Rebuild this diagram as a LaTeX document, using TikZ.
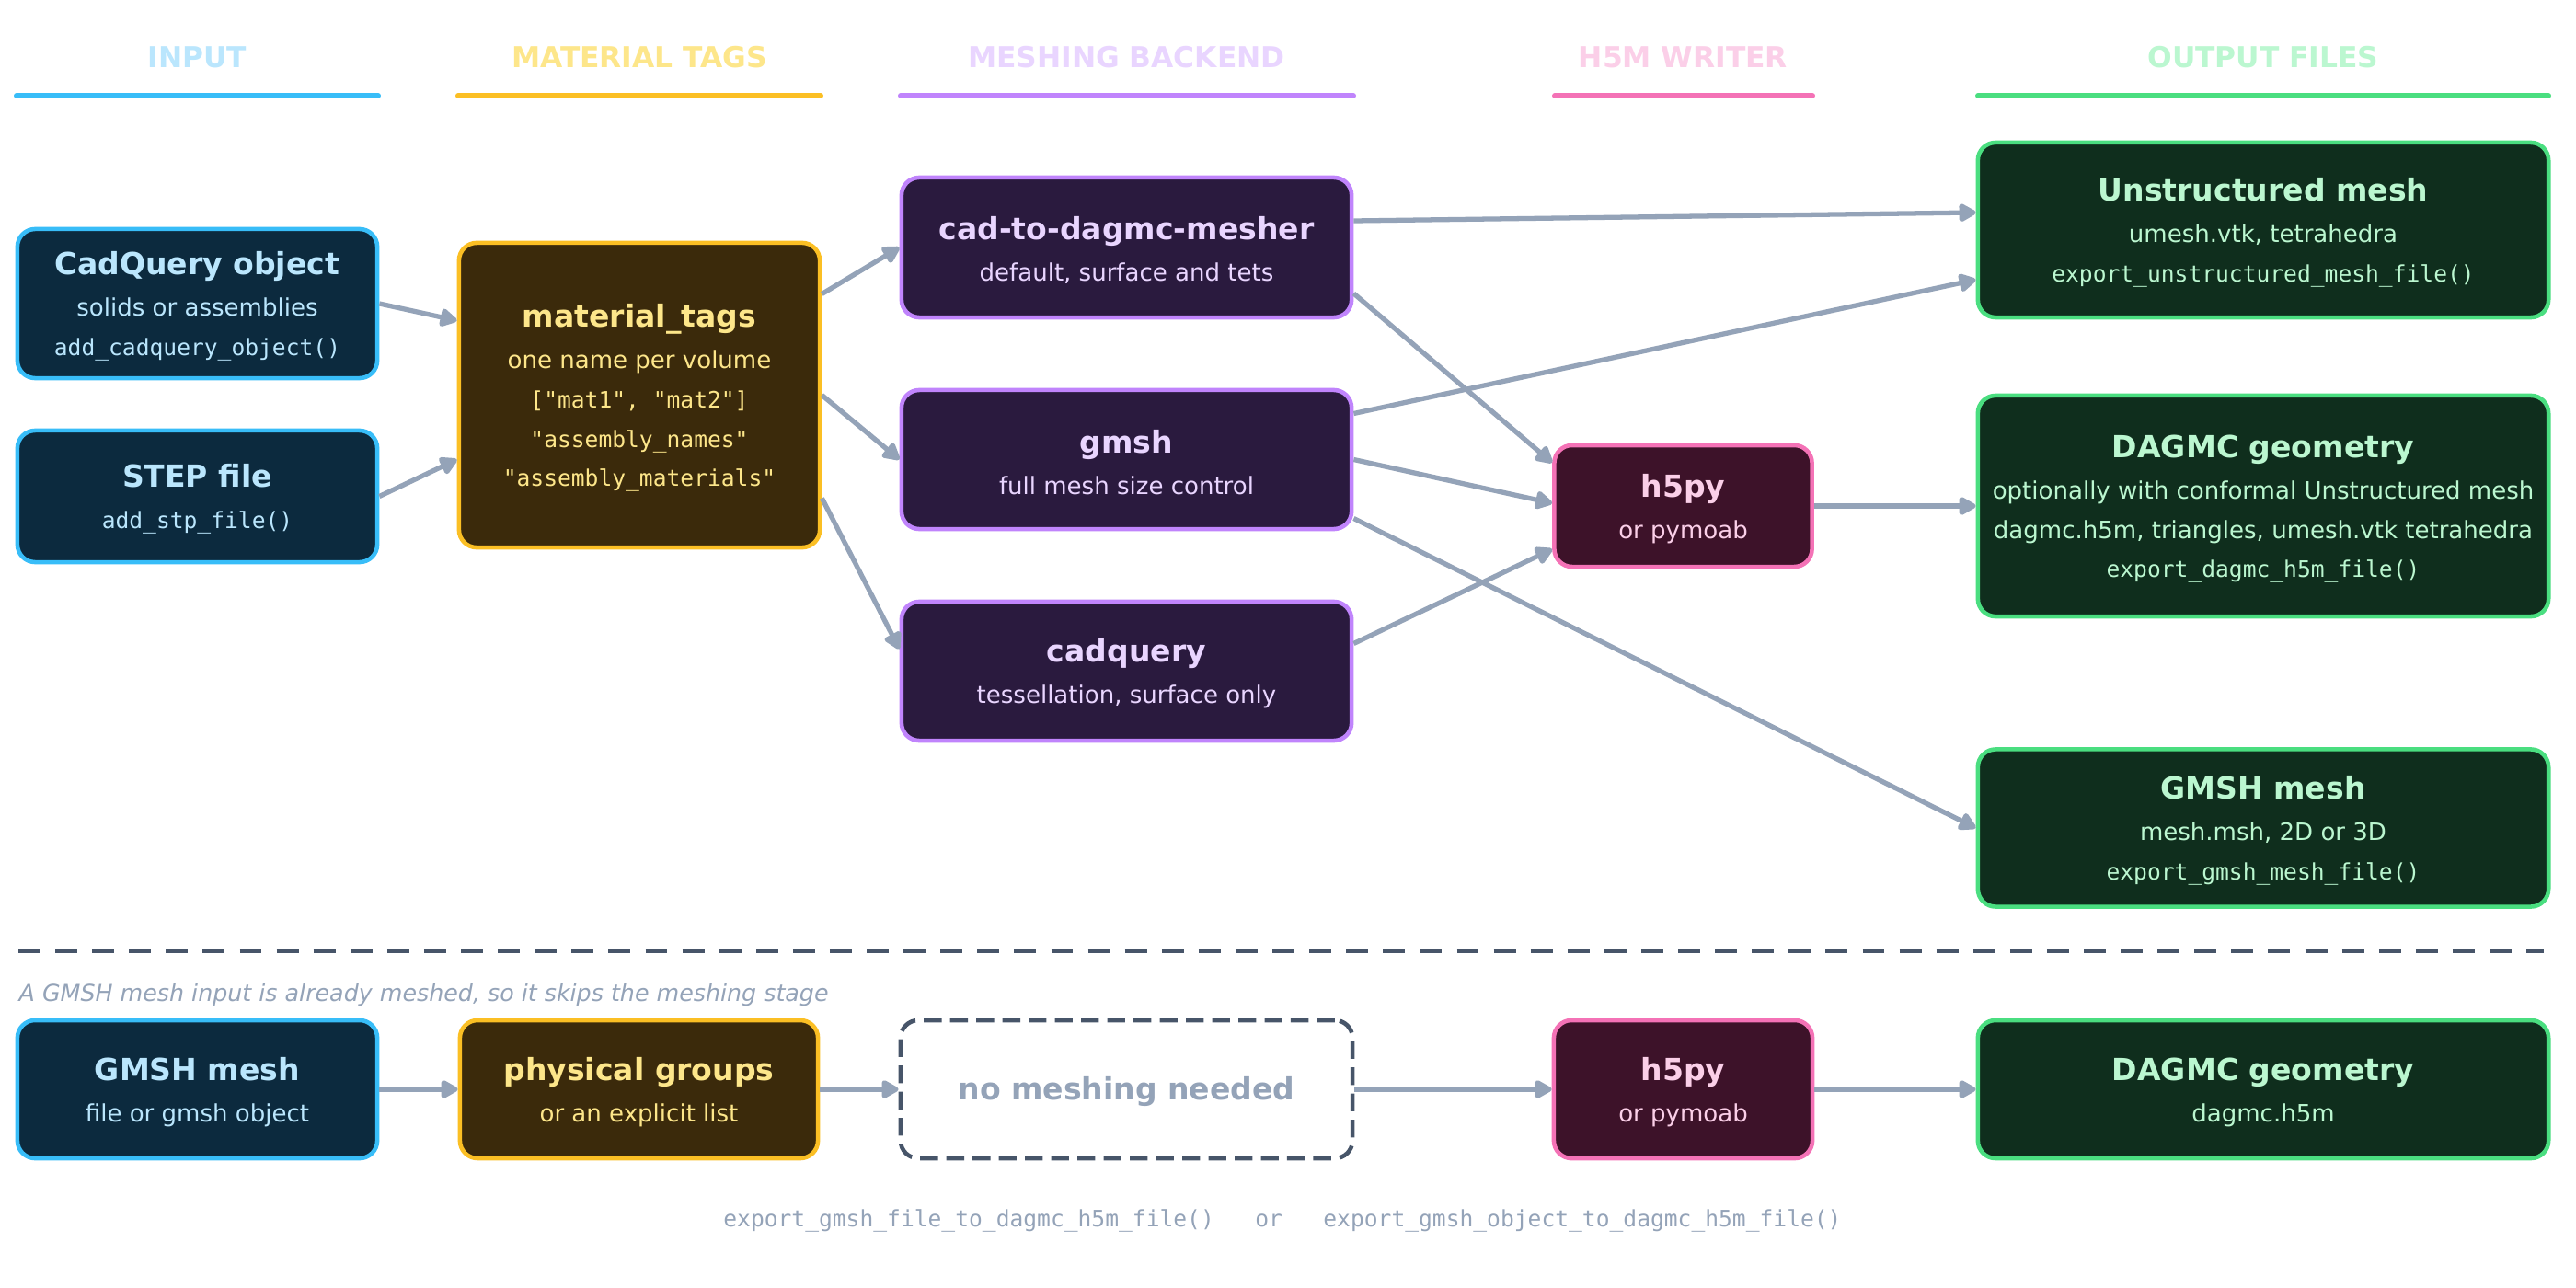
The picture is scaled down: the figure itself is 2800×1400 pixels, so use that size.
\documentclass[tikz,border=0pt]{standalone}
\usepackage{fontspec}
\setmainfont{DejaVu Sans}
\setmonofont{DejaVu Sans Mono}
\usetikzlibrary{arrows.meta, calc}

\definecolor{inedge}{HTML}{38BDF8}
\definecolor{inbg}{HTML}{0C2A3E}
\definecolor{intext}{HTML}{BAE6FD}
\definecolor{tagedge}{HTML}{FBBF24}
\definecolor{tagbg}{HTML}{3B2A0B}
\definecolor{tagtext}{HTML}{FDE68A}
\definecolor{meshedge}{HTML}{C084FC}
\definecolor{meshbg}{HTML}{2A1A3E}
\definecolor{meshtext}{HTML}{E9D5FF}
\definecolor{hfedge}{HTML}{F472B6}
\definecolor{hfbg}{HTML}{3D1229}
\definecolor{hftext}{HTML}{FBCFE8}
\definecolor{outedge}{HTML}{4ADE80}
\definecolor{outbg}{HTML}{0F2E1D}
\definecolor{outtext}{HTML}{BBF7D0}
\definecolor{arrowgray}{HTML}{94A3B8}
\definecolor{sepgray}{HTML}{475569}

\newcommand{\btitle}[1]{{\fontsize{9.4}{12}\selectfont\bfseries\rule{0pt}{8.8pt}#1}}
\newcommand{\bcode}[1]{{\ttfamily\fontsize{7}{12.2}\selectfont #1}}

\begin{document}
\begin{tikzpicture}[
  x=0.01cm, y=-0.01cm,
  >={Triangle[length=6pt,width=6.2pt,round]},
  %--- boxes, one style per column ---
  box/.style={
    rounded corners=5.5pt, line width=1.3pt,
    align=center, inner sep=0pt,
    font=\fontsize{7.4}{12.2}\selectfont
  },
  inbox/.style={box, draw=inedge, fill=inbg, text=intext},
  tagbox/.style={box, draw=tagedge, fill=tagbg, text=tagtext},
  meshbox/.style={box, draw=meshedge, fill=meshbg, text=meshtext},
  hfbox/.style={box, draw=hfedge, fill=hfbg, text=hftext},
  outbox/.style={box, draw=outedge, fill=outbg, text=outtext},
  skipbox/.style={box, draw=sepgray, dash pattern=on 5.5pt off 2.6pt,
    text=arrowgray},
  %--- connectors ---
  flow/.style={->, draw=arrowgray, line width=1.5pt},
  %--- column headers ---
  hdr/.style={font=\fontsize{8.9}{11}\selectfont\bfseries},
  hdrline/.style={line width=1.7pt, line cap=round}
]

\fill[white] (0,0) rectangle (2800,1400);
\useasboundingbox (0,0) rectangle (2800,1400);

%------------------------------------------------------------------
%  Column headers
%------------------------------------------------------------------
\node[hdr, text=intext]   (hin)   at (214.5,62) {INPUT};
\node[hdr, text=tagtext]  (htag)  at (695,62)   {MATERIAL TAGS};
\node[hdr, text=meshtext] (hmesh) at (1224.5,62) {MESHING BACKEND};
\node[hdr, text=hftext]   (hh5m)  at (1829.5,62) {H5M WRITER};
\node[hdr, text=outtext]  (hout)  at (2460,62)  {OUTPUT FILES};

\draw[hdrline, inedge]   (18,104)   -- (411,104);
\draw[hdrline, tagedge]  (498,104)  -- (892,104);
\draw[hdrline, meshedge] (979,104)  -- (1471,104);
\draw[hdrline, hfedge]   (1690,104) -- (1970,104);
\draw[hdrline, outedge]  (2150,104) -- (2770,104);

%------------------------------------------------------------------
%  Main flow: nodes
%------------------------------------------------------------------
\node[inbox, minimum width=3.91cm, minimum height=1.62cm] (cqobj) at (214.5,330)
  {\btitle{CadQuery object}\\[0.6pt] solids or assemblies\\ \bcode{add\_cadquery\_object()}};
\node[inbox, minimum width=3.91cm, minimum height=1.43cm] (step) at (214.5,539.5)
  {\btitle{STEP file}\\[0.6pt] \bcode{add\_stp\_file()}};

\node[tagbox, minimum width=3.92cm, minimum height=3.31cm] (mtags) at (695,429.5)
  {\btitle{material\_tags}\\[0.6pt] one name per volume\\
   \bcode{["mat1", "mat2"]}\\ \bcode{"assembly\_names"}\\ \bcode{"assembly\_materials"}};

\node[meshbox, minimum width=4.89cm, minimum height=1.52cm] (mesher) at (1224.5,269)
  {\btitle{cad-to-dagmc-mesher}\\[0.6pt] default, surface and tets};
\node[meshbox, minimum width=4.89cm, minimum height=1.51cm] (gmsh) at (1224.5,499.5)
  {\btitle{gmsh}\\[0.6pt] full mesh size control};
\node[meshbox, minimum width=4.89cm, minimum height=1.51cm] (cadq) at (1224.5,729.5)
  {\btitle{cadquery}\\[0.6pt] tessellation, surface only};

\node[hfbox, minimum width=2.80cm, minimum height=1.32cm] (h5py) at (1829.5,550)
  {\btitle{h5py}\\[0.6pt] or pymoab};

\node[outbox, minimum width=6.20cm, minimum height=1.90cm] (umesh) at (2460,250)
  {\btitle{Unstructured mesh}\\[0.6pt] umesh.vtk, tetrahedra\\ \bcode{export\_unstructured\_mesh\_file()}};
\node[outbox, minimum width=6.20cm, minimum height=2.40cm] (dagmc) at (2460,550)
  {\btitle{DAGMC geometry}\\[0.6pt] optionally with conformal Unstructured mesh\\
   dagmc.h5m, triangles, umesh.vtk tetrahedra\\ \bcode{export\_dagmc\_h5m\_file()}};
\node[outbox, minimum width=6.20cm, minimum height=1.71cm] (gmshout) at (2460,900)
  {\btitle{GMSH mesh}\\[0.6pt] mesh.msh, 2D or 3D\\ \bcode{export\_gmsh\_mesh\_file()}};

%------------------------------------------------------------------
%  Main flow: arrows
%------------------------------------------------------------------
\draw[flow] (cqobj.east) -- ($(mtags.west)+(0,-81)$);
\draw[flow] (step.east)  -- ($(mtags.west)+(0,70)$);

\draw[flow] ($(mtags.east)+(0,-110)$) -- (mesher.west);
\draw[flow] (mtags.east)              -- (gmsh.west);
\draw[flow] ($(mtags.east)+(0,112)$)  -- ($(cadq.west)+(0,-24)$);

\draw[flow] ($(mesher.east)+(0,-29)$) -- ($(umesh.west)+(0,-19)$);
\draw[flow] ($(mesher.east)+(0,50)$)  -- ($(h5py.west)+(0,-47)$);
\draw[flow] ($(gmsh.east)+(0,-50)$)   -- ($(umesh.west)+(0,54)$);
\draw[flow] (gmsh.east)               -- ($(h5py.west)+(0,-3)$);
\draw[flow] ($(gmsh.east)+(0,64)$)    -- (gmshout.west);
\draw[flow] ($(cadq.east)+(0,-30)$)   -- ($(h5py.west)+(0,47)$);

\draw[flow] (h5py) -- (dagmc);

%------------------------------------------------------------------
%  Separator and GMSH shortcut row
%------------------------------------------------------------------
\draw[sepgray, line width=1.2pt, dash pattern=on 6.8pt off 4.6pt] (20,1034) -- (2765,1034);

\node[anchor=west, inner sep=0pt, text=arrowgray, font=\fontsize{7.2}{9}\selectfont\itshape] (note)
  at (20,1082) {A GMSH mesh input is already meshed, so it skips the meshing stage};

\node[inbox, minimum width=3.91cm, minimum height=1.50cm] (gmshin) at (214.5,1184)
  {\btitle{GMSH mesh}\\[0.6pt] file or gmsh object};
\node[tagbox, minimum width=3.89cm, minimum height=1.50cm] (physg) at (694.5,1184)
  {\btitle{physical groups}\\[0.6pt] or an explicit list};
\node[skipbox, minimum width=4.91cm, minimum height=1.50cm] (nomesh) at (1224.5,1184)
  {\btitle{no meshing needed}};
\node[hfbox, minimum width=2.81cm, minimum height=1.50cm] (h5pyb) at (1829.5,1184)
  {\btitle{h5py}\\[0.6pt] or pymoab};
\node[outbox, minimum width=6.20cm, minimum height=1.50cm] (dagmcb) at (2460,1184)
  {\btitle{DAGMC geometry}\\[0.6pt] dagmc.h5m};

\draw[flow] (gmshin) -- (physg);
\draw[flow] (physg)  -- (nomesh);
\draw[flow] (nomesh) -- (h5pyb);
\draw[flow] (h5pyb)  -- (dagmcb);

\node[text=arrowgray, font=\ttfamily\fontsize{7}{9}\selectfont] (apicall) at (1394,1327)
  {export\_gmsh\_file\_to\_dagmc\_h5m\_file()\ \ \ or\ \ \ export\_gmsh\_object\_to\_dagmc\_h5m\_file()};

\end{tikzpicture}
\end{document}
